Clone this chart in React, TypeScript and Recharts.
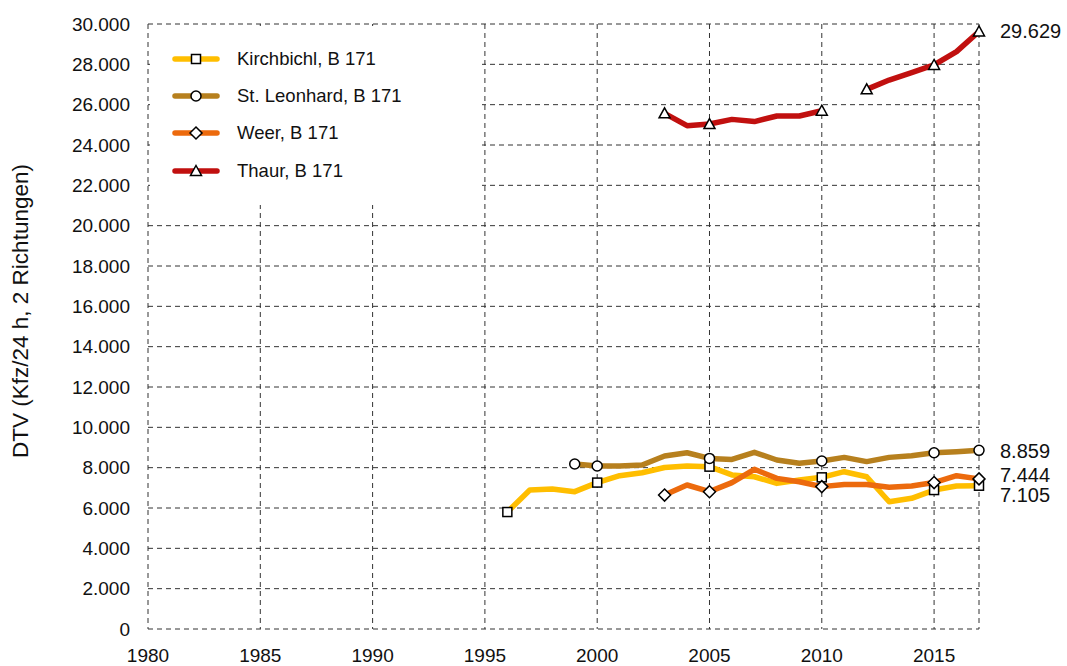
import React from 'react';
import { LineChart, Line, XAxis, YAxis, CartesianGrid, Legend, Label } from 'recharts';

const years = [1996, 1997, 1998, 1999, 2000, 2001, 2002, 2003, 2004, 2005, 2006, 2007, 2008, 2009, 2010, 2011, 2012, 2013, 2014, 2015, 2016, 2017];

const kirchbichl = [5800, 6890, 6940, 6810, 7260, 7600, 7750, 8010, 8080, 8050, 7640, 7550, 7220, 7390, 7520, 7800, 7550, 6310, 6480, 6890, 7090, 7105];
const stLeonhard = [null, null, null, 8180, 8080, 8080, 8130, 8580, 8740, 8460, 8410, 8760, 8380, 8220, 8330, 8510, 8300, 8510, 8590, 8740, 8790, 8859];
const weer = [null, null, null, null, null, null, null, 6640, 7140, 6810, 7260, 7920, 7470, 7300, 7060, 7170, 7170, 7030, 7090, 7260, 7600, 7444];
const thaur = [null, null, null, null, null, null, null, 25570, 24960, 25040, 25270, 25160, 25440, 25440, 25700, null, 26760, 27220, 27590, 27970, 28630, 29629];

const kirchbichlMarkers = [1996, 2000, 2005, 2010, 2015, 2017];
const stLeonhardMarkers = [1999, 2000, 2005, 2010, 2015, 2017];
const weerMarkers = [2003, 2005, 2010, 2015, 2017];
const thaurMarkers = [2003, 2005, 2010, 2012, 2015, 2017];

const xTicks = [1980, 1985, 1990, 1995, 2000, 2005, 2010, 2015, 2017];
const yTicks = [0, 2000, 4000, 6000, 8000, 10000, 12000, 14000, 16000, 18000, 20000, 22000, 24000, 26000, 28000, 30000];

const data = years.map((year, i) => ({
  year,
  kirchbichl: kirchbichl[i],
  stLeonhard: stLeonhard[i],
  weer: weer[i],
  thaur: thaur[i],
}));

const FONT = '"Liberation Sans", Arial, Helvetica, sans-serif';

const series = [
  { key: 'kirchbichl', name: 'Kirchbichl, B 171', color: '#FFBE00', shape: 'square', markers: kirchbichlMarkers, labelDy: 9 },
  { key: 'stLeonhard', name: 'St. Leonhard, B 171', color: '#B7801E', shape: 'circle', markers: stLeonhardMarkers, labelDy: 1 },
  { key: 'weer', name: 'Weer, B 171', color: '#EC6A0D', shape: 'diamond', markers: weerMarkers, labelDy: -4 },
  { key: 'thaur', name: 'Thaur, B 171', color: '#C1100F', shape: 'triangle', markers: thaurMarkers, labelDy: 0 },
];

const formatNum = (v: number) => String(v).replace(/\B(?=(\d{3})+(?!\d))/g, '.');

function Marker({ shape, cx, cy }: { shape: string; cx: number; cy: number }) {
  const common = { fill: '#fff', stroke: '#000', strokeWidth: 1.5 };
  if (shape === 'square') return <rect x={cx - 4.5} y={cy - 4.5} width={9} height={9} {...common} />;
  if (shape === 'circle') return <circle cx={cx} cy={cy} r={5} {...common} />;
  if (shape === 'diamond')
    return <polygon points={`${cx},${cy - 6} ${cx + 6},${cy} ${cx},${cy + 6} ${cx - 6},${cy}`} {...common} />;
  return <polygon points={`${cx},${cy - 5.5} ${cx + 5.5},${cy + 4.5} ${cx - 5.5},${cy + 4.5}`} {...common} />;
}

function LegendBox() {
  return (
    <div
      style={{
        background: '#fff',
        width: 332,
        height: 179,
        boxSizing: 'border-box',
        paddingTop: 14,
        fontFamily: FONT,
        fontSize: 18.5,
        color: '#111',
      }}
    >
      {series.map((s) => (
        <div key={s.key} style={{ height: 37.3, display: 'flex', alignItems: 'center' }}>
          <svg width={52} height={20} style={{ marginLeft: 19, display: 'block' }}>
            <line x1={6} y1={10} x2={48} y2={10} stroke={s.color} strokeWidth={5.5} strokeLinecap="round" />
            <Marker shape={s.shape} cx={27} cy={10} />
          </svg>
          <span style={{ marginLeft: 16, whiteSpace: 'nowrap' }}>{s.name}</span>
        </div>
      ))}
    </div>
  );
}

export default function App() {
  return (
    <div style={{ fontFamily: FONT, position: 'absolute', left: 0, top: 0 }}>
      <LineChart width={1067} height={666} data={data} margin={{ top: 24, right: 88, bottom: 0, left: 0 }}>
        <CartesianGrid stroke="#333" strokeDasharray="5 4" />
        <XAxis
          dataKey="year"
          type="number"
          domain={[1980, 2017]}
          ticks={xTicks}
          tickFormatter={(v) => (v === 2017 ? '' : String(v))}
          axisLine={false}
          tickLine={false}
          tickMargin={14}
          height={37}
          interval={0}
          tick={{ fill: '#111', fontSize: 19, fontFamily: FONT }}
        />
        <YAxis
          type="number"
          domain={[0, 30000]}
          ticks={yTicks}
          tickFormatter={formatNum}
          axisLine={false}
          tickLine={false}
          tickMargin={12}
          width={148}
          interval={0}
          tick={{ fill: '#111', fontSize: 19, fontFamily: FONT }}
        >
          <Label
            content={() => (
              <text
                x={20}
                y={311}
                transform="rotate(-90, 20, 311)"
                textAnchor="middle"
                dominantBaseline="central"
                fill="#111"
                fontSize={22.5}
                fontFamily={FONT}
              >
                DTV (Kfz/24 h, 2 Richtungen)
              </text>
            )}
          />
        </YAxis>
        <Legend
          layout="horizontal"
          verticalAlign="middle"
          align="center"
          content={() => <LegendBox />}
          wrapperStyle={{ left: 150, top: 26, width: 332, height: 179 }}
        />
        {series.map((s) => (
          <Line
            key={s.key}
            dataKey={s.key}
            name={s.name}
            stroke={s.color}
            strokeWidth={5.5}
            strokeLinejoin="round"
            connectNulls={false}
            isAnimationActive={false}
            dot={(p: any) =>
              p.payload && s.markers.includes(p.payload.year) && p.cy != null ? (
                <Marker key={`${s.key}-${p.index}`} shape={s.shape} cx={p.cx} cy={p.cy} />
              ) : (
                <g key={`${s.key}-${p.index}`} />
              )
            }
            activeDot={false}
            label={(p: any) =>
              p.index === years.length - 1 ? (
                <text
                  key={`${s.key}-lbl`}
                  x={p.x + 21}
                  y={p.y + s.labelDy}
                  dominantBaseline="central"
                  fill="#111"
                  fontSize={20}
                  fontFamily={FONT}
                >
                  {formatNum(p.value)}
                </text>
              ) : (
                <g key={`${s.key}-lbl-${p.index}`} />
              )
            }
          />
        ))}
      </LineChart>
    </div>
  );
}
